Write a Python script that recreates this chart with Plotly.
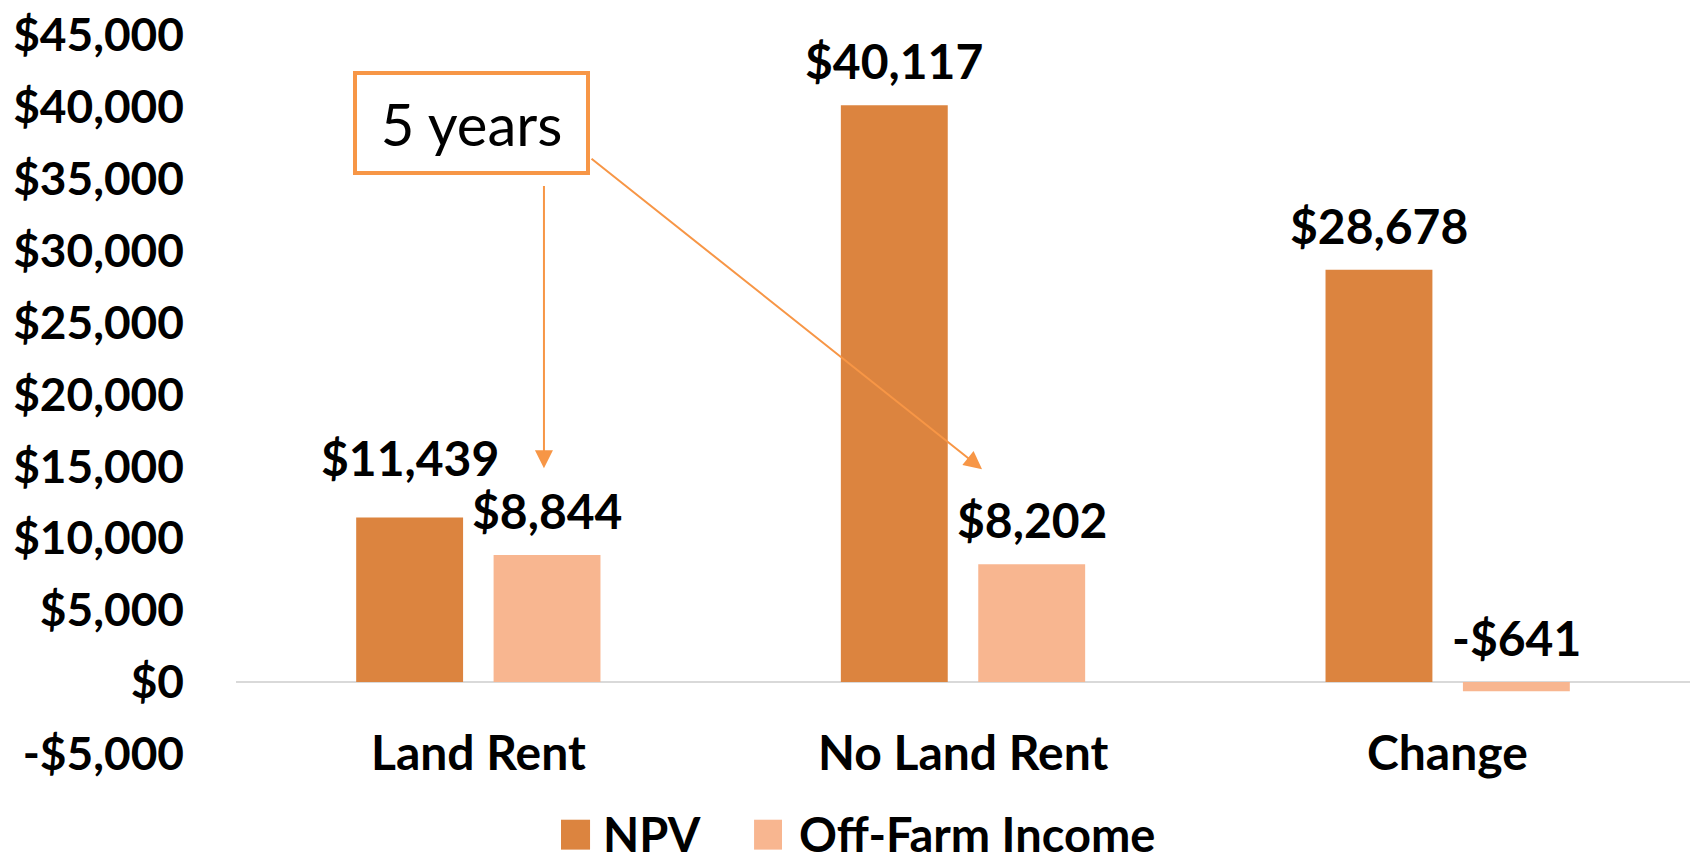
import plotly.graph_objects as go

categories = ["Land Rent", "No Land Rent", "Change"]
npv_values = [11439, 40117, 28678]
offfarm_values = [8844, 8202, -641]
series_names = ["NPV", "Off-Farm Income"]
tick_values = [-5000, 0, 5000, 10000, 15000, 20000, 25000, 30000, 35000, 40000, 45000]
tick_labels = ["-$5,000", "$0", "$5,000", "$10,000", "$15,000", "$20,000",
               "$25,000", "$30,000", "$35,000", "$40,000", "$45,000"]
note_text = "5 years"

NPV_COLOR = "#DC843F"
OFF_COLOR = "#F8B690"
ACCENT = "#F79646"
FONT = "Lato"
BARGAP = 0.433

def money(v):
    return ("-$" if v < 0 else "$") + f"{abs(v):,}"

fig = go.Figure()
fig.add_trace(go.Bar(x=categories, y=npv_values, name=series_names[0],
                     marker=dict(color=NPV_COLOR, line=dict(width=0)), showlegend=False))
fig.add_trace(go.Bar(x=categories, y=offfarm_values, name=series_names[1],
                     marker=dict(color=OFF_COLOR, line=dict(width=0)), showlegend=False))

annotations = []
off = (1 - BARGAP) / 4
label_font = dict(family=FONT, size=48, color="black", weight="bold")
legend_font = dict(family=FONT, size=47, color="black", weight="bold")
for i, v in enumerate(npv_values):
    annotations.append(dict(x=i - off, y=max(v, 0), xref="x", yref="y", text=money(v),
                            showarrow=False, yanchor="bottom", font=label_font,
                            yshift=30 if i == 0 else 14))
for i, v in enumerate(offfarm_values):
    annotations.append(dict(x=i + off, y=max(v, 0), xref="x", yref="y", text=money(v),
                            showarrow=False, yanchor="bottom", font=label_font, yshift=14))
# category labels at bottom
for i, c in enumerate(categories):
    annotations.append(dict(x=i, y=tick_values[0], xref="x", yref="y", text=c,
                            showarrow=False, yanchor="middle", font=label_font, yshift=3))

# note box and arrows
annotations.append(dict(x=0.162, y=0.8775, xref="paper", yref="paper", text=note_text,
                        showarrow=False, font=dict(family=FONT, size=58, color="black"),
                        bordercolor=ACCENT, borderwidth=4, borderpad=2, bgcolor="white",
                        width=225, height=92, xanchor="center", yanchor="middle"))
annotations.append(dict(x=0.2118, y=0.3975, ax=0.2118, ay=0.7922, xref="x domain", yref="y domain",
                        axref="x domain", ayref="y domain", text="", showarrow=True,
                        arrowhead=2, arrowsize=1.8, arrowwidth=2, arrowcolor=ACCENT))
annotations.append(dict(x=0.5131, y=0.3961, ax=0.2435, ay=0.8296, xref="x domain", yref="y domain",
                        axref="x domain", ayref="y domain", text="", showarrow=True,
                        arrowhead=2, arrowsize=1.8, arrowwidth=2, arrowcolor=ACCENT))

# manual legend
shapes = []
legend_items = [(series_names[0], NPV_COLOR, 0.2235, 0.2435, 0.2510),
                (series_names[1], OFF_COLOR, 0.3563, 0.3755, 0.3858)]
for name, col, x0, x1, tx in legend_items:
    shapes.append(dict(type="rect", xref="paper", yref="paper", x0=x0, x1=x1,
                       y0=-0.1330, y1=-0.0914, fillcolor=col, line=dict(width=0)))
    annotations.append(dict(x=tx, y=-0.1108, xref="paper", yref="paper", text=name,
                            showarrow=False, xanchor="left", yanchor="middle", font=legend_font))

fig.update_layout(
    width=1696, height=861,
    margin=dict(l=236, r=6, t=32, b=107),
    plot_bgcolor="white", paper_bgcolor="white",
    barmode="group", bargap=BARGAP, bargroupgap=0.222,
    showlegend=False,
    annotations=annotations, shapes=shapes,
    xaxis=dict(showticklabels=False, showgrid=False, showline=False, zeroline=False,
               ticks="", range=[-0.5, 2.5]),
    yaxis=dict(range=[-5000, 45000], tickvals=tick_values, ticktext=tick_labels,
               tickfont=dict(family=FONT, size=46, color="black", weight="bold"),
               showgrid=False, showline=False, zeroline=True, zerolinecolor="#D9D9D9",
               zerolinewidth=2, ticks="", ticklabelstandoff=51),
)

fig.write_html("out.html", config={"displayModeBar": False},
               post_script="document.body.style.margin='0';document.body.style.overflow='hidden';")
